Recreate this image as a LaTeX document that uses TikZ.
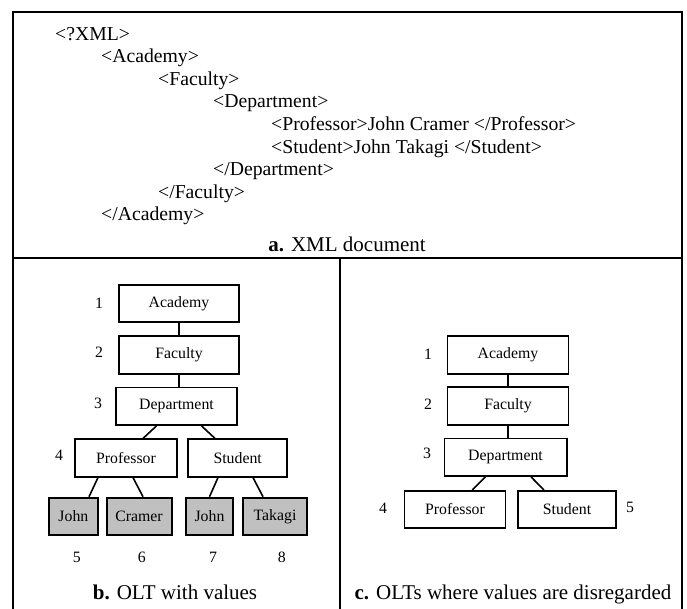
\documentclass[tikz,border=0pt]{standalone}
\usepackage{fontspec}
\setmainfont{Liberation Serif}
\usetikzlibrary{calc}
\definecolor{ValueGray}{RGB}{192,192,192}
\newcommand{\BoxFont}{\fontsize{15.8pt}{19pt}\selectfont}
\newcommand{\CodeFont}{\fontsize{19.7pt}{23pt}\selectfont}
\newcommand{\CaptionFont}{\fontsize{21pt}{25pt}\selectfont}
\def\XmlLines{55/{<?XML>}, 101/{<Academy>}, 158/{<Faculty>}, 213/{<Department>}, 271/{<Professor>John Cramer </Professor>}, 271/{<Student>John Takagi </Student>}, 213/{</Department>}, 158/{</Faculty>}, 101/{</Academy>}}
\tikzset{Tag/.style={
    draw=black,
    line width=1.6pt,
    minimum width=#1,
    minimum height=37.5pt,
    inner sep=0pt,
    font=\BoxFont
    },
    Tag/.default=120pt,
    Value/.style={Tag=#1, fill=ValueGray, line width=2pt},
    Value/.default=50pt,
    Level/.style={inner sep=0pt, font=\BoxFont},
    Code/.style={anchor=base west, inner sep=0pt, font=\CodeFont},
    Caption/.style={anchor=base, inner sep=0pt, font=\CaptionFont},
    Edge/.style={line width=1.6pt},
    Frame/.style={line width=2pt}
}

\begin{document}
\begin{tikzpicture}[x=1pt,y=-1pt]
\useasboundingbox (0,0) rectangle (687,608);
% frame
\draw [Frame] (13,620) -- (13,12) -- (682,12) -- (682,620);
\draw [Frame] (13,258) -- (682,258);
\draw [Frame] (340,258) -- (340,620);
% a. XML document
\foreach \x/\t [count=\i] in \XmlLines {
\node [Code] (xml\i) at (\x,{40+22.6*(\i-1)}) {\t};
}
\node [Caption] (capA) at (347,251) {\textbf{a.} XML document};
% b. OLT with values
\node [Tag] (acadB) at (179,303.5) {Academy};
\node [Tag] (facB) at (179,355) {Faculty};
\node [Tag=121.5pt] (depB) at (176.5,406.3) {Department};
\node [Tag=101.7pt] (profB) at (126,458) {Professor};
\node [Tag=99pt] (studB) at (237.7,458) {Student};
\node [Value=49.4pt] (johnB) at (73.4,516.5) {John};
\node [Value=65pt] (cramB) at (139,516.5) {Cramer};
\node [Value=47pt] (johnBB) at (209.5,516.5) {John};
\node [Value=63.7pt] (takB) at (275,516.5) {Takagi};
\draw [Edge] (acadB) -- (facB);
\draw [Edge] (facB.south) -- (facB.south |- depB.north);
\draw [Edge] ([xshift=-20pt]depB.south) -- ([xshift=17pt]profB.north);
\draw [Edge] ([xshift=25pt]depB.south) -- ([xshift=-22.7pt]studB.north);
\draw [Edge] ([xshift=-28pt]profB.south) -- ([xshift=15.6pt]johnB.north);
\draw [Edge] ([xshift=7pt]profB.south) -- ([xshift=4pt]cramB.north);
\draw [Edge] ([xshift=-19.7pt]studB.south) -- (johnBB.north);
\draw [Edge] ([xshift=15.3pt]studB.south) -- ([xshift=-12pt]takB.north);
\node [Level] (lvB1) at (99,303) {1};
\node [Level] (lvB2) at (99,352) {2};
\node [Level] (lvB3) at (98,403) {3};
\node [Level] (lvB4) at (59,455) {4};
\node [Level] (lvB5) at (76.7,557) {5};
\node [Level] (lvB6) at (141.7,557) {6};
\node [Level] (lvB7) at (213,557) {7};
\node [Level] (lvB8) at (281.7,557) {8};
\node [Caption] (capB) at (175,599) {\textbf{b.} OLT with values};
% c. OLTs where values are disregarded
\node [Tag=121pt] (acadC) at (508,355) {Academy};
\node [Tag=121pt] (facC) at (508,406) {Faculty};
\node [Tag=122.4pt] (depC) at (505.5,457.3) {Department};
\node [Tag=100.7pt] (profC) at (455,509.5) {Professor};
\node [Tag=98.3pt] (studC) at (567,509.5) {Student};
\draw [Edge] (acadC) -- (facC);
\draw [Edge] (facC.south) -- (facC.south |- depC.north);
\draw [Edge] ([xshift=-20pt]depC.south) -- ([xshift=17.3pt]profC.north);
\draw [Edge] ([xshift=25.5pt]depC.south) -- ([xshift=-23pt]studC.north);
\node [Level] (lvC1) at (428,354) {1};
\node [Level] (lvC2) at (428,404) {2};
\node [Level] (lvC3) at (427,453) {3};
\node [Level] (lvC4) at (383,508) {4};
\node [Level] (lvC5) at (630,507) {5};
\node [Caption] (capC) at (513,599) {\textbf{c.} OLTs where values are disregarded};
\end{tikzpicture}
\end{document}
